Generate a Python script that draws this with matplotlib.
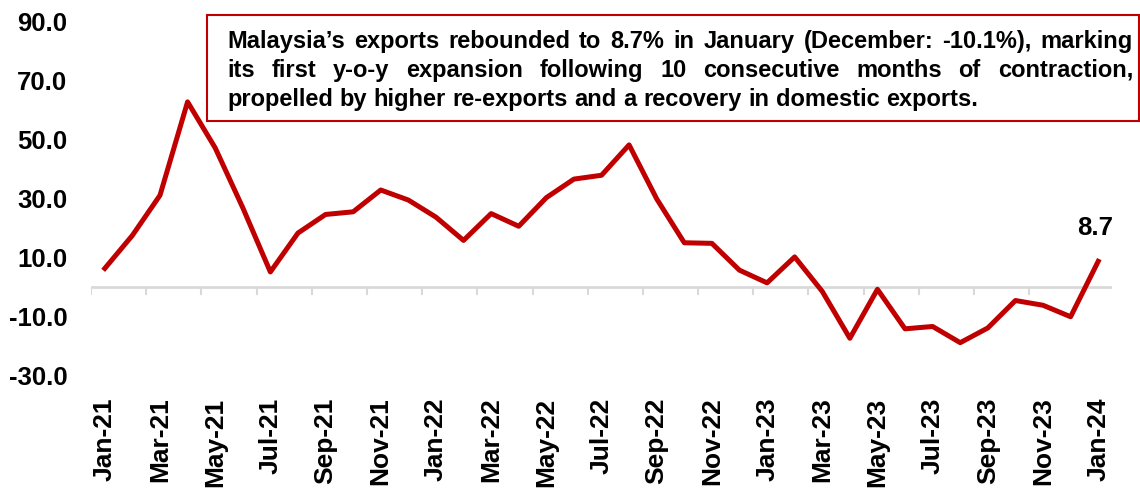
import numpy as np
import matplotlib.pyplot as plt
from matplotlib.patches import Rectangle

plt.rcParams['font.family'] = ['Liberation Sans', 'DejaVu Sans']
plt.rcParams['font.weight'] = 'bold'

months = ['Jan-21', 'Feb-21', 'Mar-21', 'Apr-21', 'May-21', 'Jun-21', 'Jul-21', 'Aug-21',
          'Sep-21', 'Oct-21', 'Nov-21', 'Dec-21', 'Jan-22', 'Feb-22', 'Mar-22', 'Apr-22',
          'May-22', 'Jun-22', 'Jul-22', 'Aug-22', 'Sep-22', 'Oct-22', 'Nov-22', 'Dec-22',
          'Jan-23', 'Feb-23', 'Mar-23', 'Apr-23', 'May-23', 'Jun-23', 'Jul-23', 'Aug-23',
          'Sep-23', 'Oct-23', 'Nov-23', 'Dec-23', 'Jan-24']
growth = [6.3, 17.5, 31.1, 62.8, 47.2, 26.9, 5.1, 18.3, 24.6, 25.5, 32.9, 29.5,
          23.7, 15.8, 24.9, 20.6, 30.3, 36.6, 37.9, 48.2, 29.9, 15.0, 14.8, 5.7,
          1.4, 10.2, -1.5, -17.4, -0.8, -14.2, -13.4, -18.9, -13.9, -4.6, -6.2, -10.1, 8.7]
yticks = [-30, -10, 10, 30, 50, 70, 90]

note_lines = [
    "Malaysia\u2019s exports rebounded to 8.7% in January (December: -10.1%), marking",
    "its first y-o-y expansion following 10 consecutive months of contraction,",
    "propelled by higher re-exports and a recovery in domestic exports.",
]

W, H = 1140, 491
red = '#c00000'
grey = '#d9d9d9'
note_size = 17

fig = plt.figure(figsize=(W / 100, H / 100), dpi=100)
ax = fig.add_axes([91 / W, 1 - 375.4 / H, (1112 - 91) / W, (375.4 - 21.7) / H])

x = np.arange(len(months))
ax.plot(x, growth, color=red, lw=3.6, zorder=3)
ax.set_xlim(-0.5, len(months) - 0.5)
ax.set_ylim(-30, 90)

# zero line with category-boundary tick marks
ax.axhline(0, color=grey, lw=2, zorder=1)
bounds = np.arange(-0.5, 34, 2)
ax.vlines(bounds, -2.7, 0, color=grey, lw=1.5, zorder=1)

ax.set_yticks(yticks)
ax.set_yticklabels([f'{v:.1f}' for v in yticks], fontsize=18.5, fontweight='bold')
ax.tick_params(axis='y', length=0, pad=17)
ax.set_xticks(x[::2])
ax.set_xticklabels(months[::2], rotation=90, fontsize=19, fontweight='bold')
ax.tick_params(axis='x', length=0, pad=16)
for s in ax.spines.values():
    s.set_visible(False)

ax.annotate(f'{growth[-1]:.1f}', (x[-1], growth[-1]), xytext=(-2, 15),
            textcoords='offset points', ha='center', va='bottom',
            fontsize=18.5, fontweight='bold')

# commentary box
box = Rectangle((207 / W, 1 - 121 / H), (1139 - 207) / W, (121 - 15) / H,
                transform=fig.transFigure, facecolor='white', edgecolor=red,
                lw=1.5, zorder=5)
fig.add_artist(box)

renderer = fig.canvas.get_renderer()
x0, x1 = 227, 1133
baselines = [48, 77, 106]
for i, (line, yb) in enumerate(zip(note_lines, baselines)):
    words = line.split(' ')
    texts = [fig.text(0, 1 - yb / H, w, fontsize=note_size, fontweight='bold',
                      va='baseline', ha='left', zorder=6) for w in words]
    widths = [t.get_window_extent(renderer).width for t in texts]
    if i < len(note_lines) - 1:
        gap = (x1 - x0 - sum(widths)) / (len(words) - 1)
    else:
        space = fig.text(0, 0, 'a a', fontsize=note_size, fontweight='bold')
        aa = fig.text(0, 0, 'aa', fontsize=note_size, fontweight='bold')
        gap = space.get_window_extent(renderer).width - aa.get_window_extent(renderer).width
        space.remove()
        aa.remove()
    pos = x0
    for t, w in zip(texts, widths):
        t.set_x(pos / W)
        pos += w + gap

fig.savefig('out.png', dpi=100)
